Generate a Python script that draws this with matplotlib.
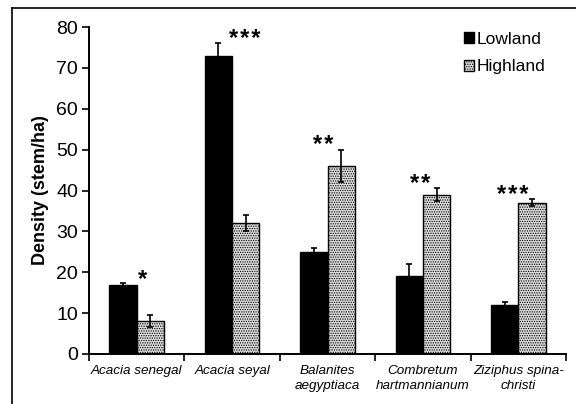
import numpy as np
import matplotlib
matplotlib.use('Agg')
import matplotlib.pyplot as plt
from matplotlib.patches import Patch
from matplotlib.lines import Line2D

plt.rcParams['font.family'] = ['Liberation Sans', 'DejaVu Sans']
plt.rcParams['hatch.linewidth'] = 0.6
plt.rcParams['hatch.color'] = '#303030'

# tree density per species and altitude
species = ['Acacia senegal', 'Acacia seyal', 'Balanites\naegyptiaca',
           'Combretum\nhartmannianum', 'Ziziphus spina-\nchristi']
lowland = [17, 73, 25, 19, 12]
lowland_err = [0.4, 3, 1, 3, 0.8]
highland = [8, 32, 46, 39, 37]
highland_err = [1.5, 2, 4, 1.5, 0.8]
signif = ['*', '***', '**', '**', '***']

x = np.arange(len(species))
width = 0.286
star_shift = [0.056, 0.13, -0.05, -0.03, -0.057]

fig = plt.figure(figsize=(5.76, 4.04), dpi=100)
ax = fig.add_axes([89 / 576, 1 - 354 / 404, 477 / 576, 327 / 404])

hatch_face = '#dcdcdc'
ax.bar(x - width / 2, lowland, width, color='black', edgecolor='black', linewidth=1,
       yerr=lowland_err, error_kw=dict(ecolor='black', elinewidth=1.2, capsize=2.5, capthick=1.2))
ax.bar(x + width / 2, highland, width, color=hatch_face, edgecolor='black', linewidth=1,
       hatch='.......',
       yerr=highland_err, error_kw=dict(ecolor='black', elinewidth=1.2, capsize=2.5, capthick=1.2))

# significance stars just above the taller error bar of each pair
for i in range(len(species)):
    top = max(lowland[i] + lowland_err[i], highland[i] + highland_err[i])
    ax.text(x[i] + star_shift[i], top - 0.7, '\u200a'.join(signif[i]), ha='center',
            va='baseline', fontsize=17, fontweight='bold')

ax.set_xlim(-0.5, len(species) - 0.5)
ax.set_ylim(0, 80)
ax.set_yticks(np.arange(0, 81, 10))
ax.tick_params(axis='y', labelsize=14, direction='out', length=5, width=1.2, pad=3)

# ticks between categories, labels at centers
ax.set_xticks(np.arange(-0.5, len(species), 1.0))
ax.set_xticklabels([])
ax.tick_params(axis='x', which='major', direction='out', length=5, width=1.2)
ax.set_xticks(x, minor=True)
ax.set_xticklabels(species, minor=True, fontstyle='italic', fontsize=9.7, linespacing=1.35)
ax.tick_params(axis='x', which='minor', length=0, pad=8)

for s in ['top', 'right']:
    ax.spines[s].set_visible(False)
for s in ['left', 'bottom']:
    ax.spines[s].set_linewidth(1.4)

ax.set_ylabel('Density (stem/ha)', fontsize=13, fontweight='bold')
ax.yaxis.set_label_coords(-0.083, 0.5)

handles = [Patch(facecolor='black', edgecolor='black'),
           Patch(facecolor=hatch_face, edgecolor='black', hatch='.......')]
fig.legend(handles, ['Lowland', 'Highland'], loc='upper left',
           bbox_to_anchor=(464 / 576, 1 - 32 / 404), frameon=False, fontsize=12.5,
           handlelength=0.55, handleheight=0.6, handletextpad=0.2, labelspacing=0.7,
           borderpad=0, borderaxespad=0)

# outer frame, open on the right and bottom
fig.add_artist(Line2D([12 / 576, 12 / 576], [0, 1 - 8 / 404], color='black', lw=1.2,
                      transform=fig.transFigure))
fig.add_artist(Line2D([12 / 576, 1], [1 - 8 / 404, 1 - 8 / 404], color='black', lw=1.2,
                      transform=fig.transFigure))

fig.savefig('out.png', dpi=100)
